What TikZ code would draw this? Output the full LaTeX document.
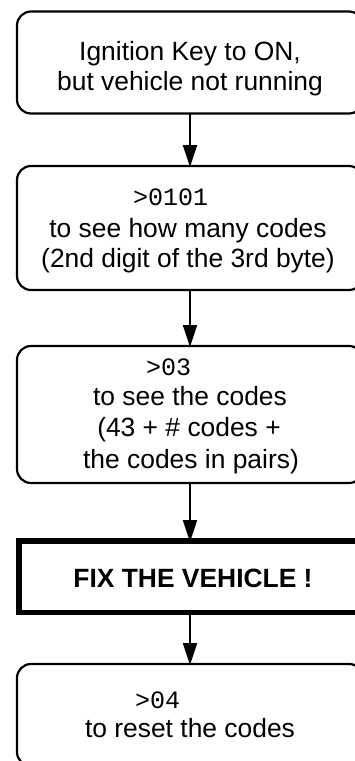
\documentclass[tikz,border=0pt]{standalone}
\usepackage{fontspec}
\setmainfont{Liberation Sans}
\setmonofont{Liberation Mono}
\usetikzlibrary{arrows.meta}
\begin{document}
\begin{tikzpicture}[x=1pt,y=-1pt,
  rbox/.style={draw, line width=2.2pt, rounded corners=14pt, minimum width=346pt, inner sep=0pt, outer sep=0pt},
  fixbox/.style={draw, line width=5.8pt, minimum width=342pt, inner sep=0pt, outer sep=0pt},
  txt/.style={anchor=base, inner sep=0pt, font=\fontsize{26.4}{30}\selectfont},
  boldtxt/.style={txt, font=\fontsize{26.4}{30}\selectfont\bfseries},
  code/.style={anchor=base west, inner sep=0pt, font=\fontsize{25}{30}\selectfont\ttfamily},
  arr/.style={line width=2.2pt, -{Triangle[length=22pt,width=14pt]}, shorten >=-1pt}
]
\useasboundingbox (0,0) rectangle (355,761);
\clip (0,0) rectangle (355,761);

% boxes
\node[rbox, minimum height=102pt] (b1) at (190,62.5) {};
\node[rbox, minimum height=124pt] (b2) at (190,228) {};
\node[rbox, minimum height=137pt] (b3) at (190,414.5) {};
\node[fixbox, minimum height=71.5pt] (b4) at (190,576.75) {};
\node[rbox, minimum height=102pt] (b5) at (190,715) {};

% texts
\node[txt] (t1a) at (190,60) {Ignition Key to ON,};
\node[txt] (t1b) at (190,90) {but vehicle not running};

\node[code] (c2) at (133,205) {>0101};
\node[txt] (t2a) at (188,237) {to see how many codes};
\node[txt] (t2b) at (188,267) {(2nd digit of the 3rd byte)};

\node[code] (c3) at (146,375) {>03};
\node[txt] (t3a) at (190,405) {to see the codes};
\node[txt] (t3b) at (189,436) {(43 + \# codes +};
\node[txt] (t3c) at (191,468) {the codes in pairs)};

\node[boldtxt] (t4) at (193,587) {FIX THE VEHICLE !};

\node[code] (c5) at (135,708) {>04};
\node[txt] (t5) at (190,737) {to reset the codes};

% arrows
\draw[arr] (b1.south) -- (b2.north);
\draw[arr] (b2.south) -- (b3.north);
\draw[arr] (b3.south) -- (b4.north);
\draw[arr] (b4.south) -- (b5.north);
\end{tikzpicture}
\end{document}
